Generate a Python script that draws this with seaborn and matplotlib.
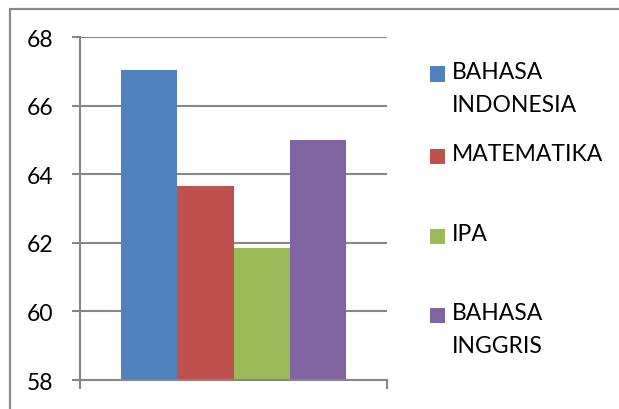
import pandas as pd
import numpy as np
import seaborn as sns
import matplotlib.pyplot as plt
from matplotlib.lines import Line2D
from matplotlib.patches import Rectangle

# data
subjects = ["BAHASA INDONESIA", "MATEMATIKA", "IPA", "BAHASA INGGRIS"]
legend_labels = ["BAHASA\nINDONESIA", "MATEMATIKA", "IPA", "BAHASA\nINGGRIS"]
scores = [67.05, 63.65, 61.85, 65.0]
colors = ["#4f81bd", "#c0504d", "#9bbb59", "#8064a2"]
yticks = [58, 60, 62, 64, 66, 68]

df = pd.DataFrame({"group": [""] * len(subjects), "subject": subjects, "score": scores})

sns.set_style("white")
plt.rcParams['font.family'] = ['Lato', 'DejaVu Sans']
grid_col = "#868686"

fig = plt.figure(figsize=(6.19, 4.10), dpi=100)
ax = fig.add_axes([80 / 619, 29 / 410, 307 / 619, 343 / 410])

sns.barplot(data=df, x="group", y="score", hue="subject", hue_order=subjects,
            palette=colors, saturation=1, width=0.733, legend=False, ax=ax)
for p in ax.patches:
    p.set_linewidth(0)

ax.set_ylim(58, 68)
ax.set_xlim(-0.5, 0.5)
ax.set_yticks(yticks)
ax.set_yticklabels([str(t) for t in yticks], fontsize=16.5, color="black")
ax.set_xticks([-0.5, 0.5])
ax.set_xticklabels(["", ""])
ax.set_xlabel("")
ax.set_ylabel("")
ax.yaxis.grid(True, color=grid_col, linewidth=1.5)
ax.set_axisbelow(True)
ax.tick_params(axis="y", direction="out", length=6, width=1.5, color=grid_col, pad=13, left=True)
ax.tick_params(axis="x", direction="out", length=6.5, width=1.5, color=grid_col, bottom=True)
for s in ["top", "right"]:
    ax.spines[s].set_visible(False)
for s in ["left", "bottom"]:
    ax.spines[s].set_color(grid_col)
    ax.spines[s].set_linewidth(1.5)

# chart area border (top and left visible)
fig.add_artist(Line2D([10 / 619, 1.0], [1 - 9.5 / 410, 1 - 9.5 / 410], color="#8a8a8a", lw=1.6))
fig.add_artist(Line2D([10 / 619, 10 / 619], [0, 1 - 9.5 / 410], color="#8a8a8a", lw=1.6))

# legend
label_y = [75, 157, 237, 316]
for lab, col, yy in zip(legend_labels, colors, label_y):
    fig.add_artist(Rectangle((430 / 619, 1 - (yy + 7.5) / 410), 15 / 619, 15 / 410,
                             transform=fig.transFigure, color=col, lw=0))
    fig.text(452 / 619, 1 - (yy - 13) / 410, lab, fontsize=16.5, va="top", ha="left",
             linespacing=1.68, color="black")

fig.savefig("out.png", dpi=100)
